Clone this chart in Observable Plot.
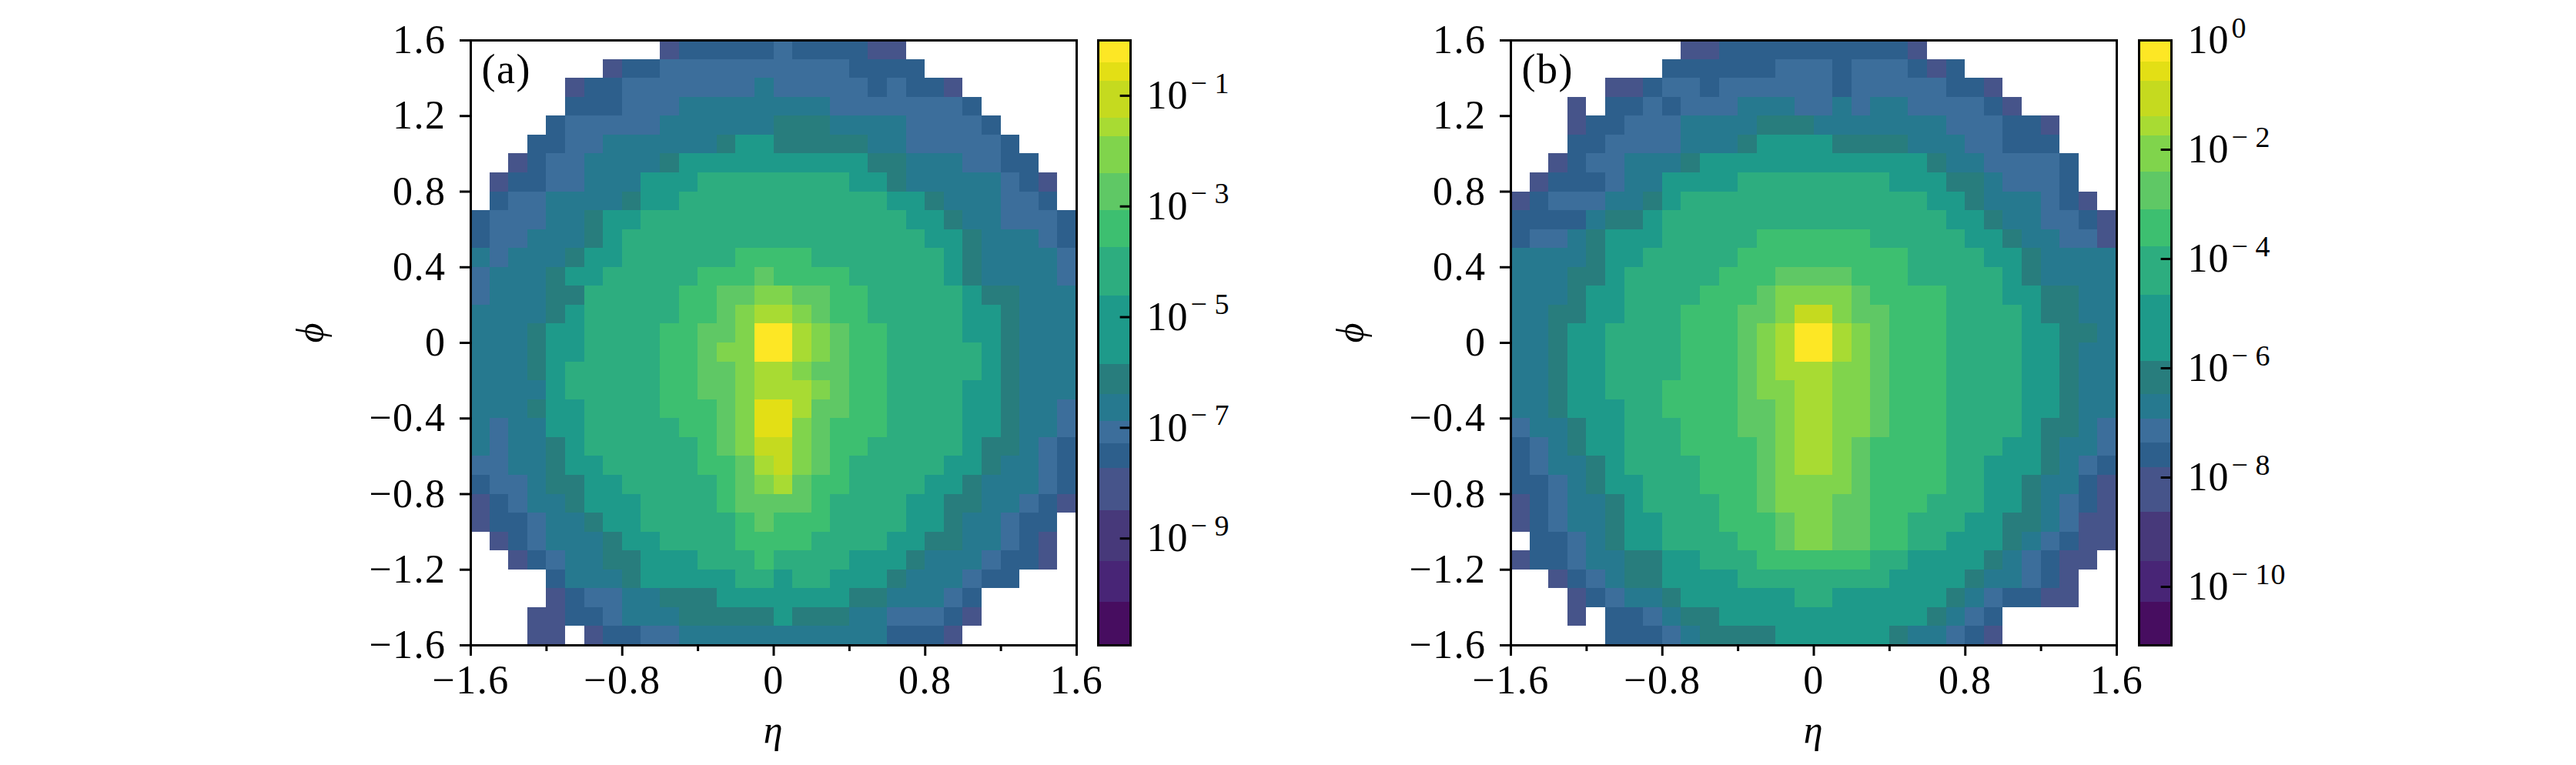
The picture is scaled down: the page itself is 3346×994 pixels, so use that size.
<!DOCTYPE html>
<html>
<head>
<meta charset="utf-8">
<script src="https://cdn.jsdelivr.net/npm/d3@7"></script>
<script src="https://cdn.jsdelivr.net/npm/@observablehq/plot@0.6"></script>
<style>
  html, body { margin: 0; background: #fff; }
  #graph { position: relative; width: 3346px; height: 994px; overflow: hidden; }
  #graph svg { position: absolute; background: transparent; overflow: visible; }
</style>
</head>
<body>
<div id="graph"></div>
<script>
const _ = null; // empty bin, stays white

// colour band of every (eta, phi) bin, top row first
const densityA = [
  [_,_,_,_,_,_,_,_,_,_,1,2,2,2,2,2, 3,2,2,2,2,1,1,_,_,_,_,_,_,_,_,_],
  [_,_,_,_,_,_,_,1,2,2,3,3,3,3,3,3, 3,3,3,3,2,2,2,2,_,_,_,_,_,_,_,_],
  [_,_,_,_,_,1,2,2,3,3,3,3,3,3,3,4, 3,3,3,3,3,2,3,2,2,1,_,_,_,_,_,_],
  [_,_,_,_,_,2,2,2,3,3,3,4,4,4,4,4, 4,4,4,3,3,3,3,3,3,3,2,_,_,_,_,_],
  [_,_,_,_,2,3,3,3,3,3,4,4,4,4,4,4, 5,5,5,4,4,4,4,3,3,3,3,2,_,_,_,_],
  [_,_,_,2,2,3,3,4,4,4,4,4,4,5,6,6, 5,5,5,5,5,4,4,3,3,3,3,3,2,_,_,_],
  [_,_,1,2,3,3,4,4,4,4,5,6,6,6,6,6, 6,6,6,6,6,5,5,4,4,4,3,3,2,2,_,_],
  [_,1,2,2,3,3,4,4,4,6,6,6,7,7,7,7, 7,7,7,7,6,6,5,4,4,4,4,4,3,2,1,_],
  [_,2,3,3,4,4,4,4,5,6,6,7,7,7,7,7, 7,7,7,7,7,7,6,6,5,4,4,4,3,3,2,_],
  [2,3,3,3,4,4,5,6,6,7,7,7,7,7,7,7, 7,7,7,7,7,7,7,6,6,5,4,4,3,3,3,2],
  [2,3,3,4,4,4,5,6,7,7,7,7,7,7,7,7, 7,7,7,7,7,7,7,7,6,6,5,4,4,4,3,2],
  [4,3,4,4,4,5,6,6,7,7,7,7,7,7,8,8, 8,8,7,7,7,7,7,7,7,6,5,4,4,4,4,3],
  [3,4,4,4,5,6,6,7,7,7,7,7,8,8,8,9, 8,8,8,8,7,7,7,7,7,6,5,4,4,4,4,3],
  [3,4,4,4,5,5,7,7,7,7,7,8,8,9,9,10, 10,9,9,8,8,7,7,7,7,7,6,5,5,4,4,4],
  [4,4,4,4,5,6,7,7,7,7,7,8,8,9,10,11, 11,10,9,8,8,7,7,7,7,7,6,6,5,4,4,4],
  [4,4,4,5,6,6,7,7,7,7,8,8,9,9,10,14, 14,11,10,9,8,8,7,7,7,7,6,6,5,4,4,4],
  [4,4,4,5,6,6,7,7,7,7,8,8,9,10,10,14, 14,11,10,9,8,8,7,7,7,7,7,6,5,4,4,4],
  [4,4,4,5,6,7,7,7,7,7,8,8,9,9,10,11, 11,10,9,9,8,8,7,7,7,7,7,6,5,4,4,4],
  [4,4,4,4,6,7,7,7,7,7,8,8,9,9,10,11, 11,11,10,9,8,8,7,7,7,7,6,6,5,4,4,4],
  [4,4,4,5,6,6,7,7,7,7,8,8,8,9,10,13, 13,11,9,9,8,8,7,7,7,7,6,6,5,4,4,3],
  [4,3,4,4,6,6,7,7,7,7,7,8,8,9,10,13, 13,10,9,8,8,8,7,7,7,7,6,6,5,4,4,3],
  [4,3,4,4,5,6,7,7,7,7,7,7,8,9,10,12, 12,10,9,8,8,7,7,7,7,7,6,5,5,4,3,2],
  [3,3,4,4,5,6,6,7,7,7,7,7,8,8,9,11, 12,10,9,8,7,7,7,7,7,6,6,5,4,4,3,2],
  [2,3,3,4,5,5,6,6,7,7,7,7,7,8,9,10, 11,9,8,8,7,7,7,7,6,6,5,4,4,4,3,2],
  [1,2,3,4,4,5,6,6,6,7,7,7,7,8,9,9, 9,9,8,7,7,7,7,6,6,5,5,4,4,3,2,1],
  [1,2,2,3,4,4,5,6,6,7,7,7,7,7,8,9, 8,8,8,7,7,7,7,6,6,5,4,4,3,2,2,_],
  [_,1,2,3,4,4,4,5,6,6,7,7,7,7,8,8, 8,8,7,7,7,7,6,6,5,5,4,4,3,2,1,_],
  [_,_,1,2,3,4,4,5,5,6,6,6,7,7,7,8, 7,7,7,7,6,6,6,5,4,4,4,3,2,2,1,_],
  [_,_,_,_,2,4,4,4,5,6,6,6,6,6,7,7, 6,7,7,6,6,6,5,4,4,4,3,2,2,_,_,_],
  [_,_,_,_,1,2,3,3,4,4,5,5,5,6,6,6, 6,6,6,6,5,5,4,4,4,3,2,_,_,_,_,_],
  [_,_,_,1,1,2,2,3,4,4,4,5,5,5,5,5, 6,5,5,5,4,4,3,3,3,2,1,_,_,_,_,_],
  [_,_,_,1,1,_,1,2,2,3,3,4,4,4,4,4, 4,4,4,4,4,4,2,2,2,1,_,_,_,_,_,_]
];

const densityB = [
  [_,_,_,_,_,_,_,_,_,1,1,2,2,2,2,2, 2,2,2,2,2,1,_,_,_,_,_,_,_,_,_,_],
  [_,_,_,_,_,_,_,_,2,2,2,2,2,2,3,3, 3,2,3,3,3,2,1,2,_,_,_,_,_,_,_,_],
  [_,_,_,_,_,1,1,2,3,3,2,3,3,3,3,3, 3,2,3,3,3,3,3,2,2,1,_,_,_,_,_,_],
  [_,_,_,1,_,2,2,3,2,3,3,3,4,4,4,3, 3,4,3,4,4,3,3,3,3,2,1,_,_,_,_,_],
  [_,_,_,1,2,2,3,3,3,4,4,4,4,5,5,5, 4,4,4,4,4,4,4,3,3,3,2,2,1,_,_,_],
  [_,_,_,2,2,3,3,3,3,4,4,4,5,6,6,6, 6,5,5,5,5,4,4,4,3,3,2,2,2,_,_,_],
  [_,_,1,2,3,3,4,4,4,5,6,6,6,6,6,6, 6,6,6,6,6,6,5,4,4,3,3,3,3,2,_,_],
  [_,1,2,2,2,3,4,4,6,6,6,6,7,7,7,7, 7,7,7,7,6,6,6,5,5,4,3,3,3,2,_,_],
  [1,2,3,3,3,4,4,5,6,7,7,7,7,7,7,7, 7,7,7,7,7,7,6,6,5,4,4,4,3,2,1,_],
  [2,2,2,2,4,5,5,6,7,7,7,7,7,7,7,7, 7,7,7,7,7,7,7,6,6,5,4,4,3,3,2,1],
  [2,3,3,4,5,6,6,6,7,7,7,7,7,8,8,8, 8,8,8,7,7,7,7,7,6,6,5,4,4,3,3,1],
  [4,4,4,4,5,6,6,7,7,7,7,7,8,8,8,8, 8,8,8,8,8,7,7,7,7,6,6,5,4,4,4,4],
  [4,4,4,5,5,6,7,7,7,7,7,8,8,8,9,9, 9,9,8,8,8,7,7,7,7,7,6,5,4,4,4,4],
  [4,4,4,5,6,6,7,7,7,7,8,8,8,9,10,10, 10,10,9,8,8,8,8,7,7,7,6,6,5,5,4,4],
  [4,4,5,5,6,6,7,7,7,8,8,8,9,9,10,12, 12,10,9,9,8,8,8,7,7,7,7,6,5,5,4,4],
  [4,4,5,6,6,7,7,7,7,8,8,8,9,10,11,14, 14,11,10,9,8,8,8,7,7,7,7,6,6,5,5,4],
  [4,4,5,6,6,7,7,7,7,8,8,8,9,10,11,14, 14,11,10,9,8,8,8,7,7,7,7,6,6,5,4,4],
  [4,4,5,6,6,7,7,7,7,8,8,8,9,10,11,11, 11,10,10,9,8,8,8,7,7,7,7,6,6,5,4,4],
  [4,4,5,6,6,7,7,7,8,8,8,8,9,10,10,11, 11,10,10,9,8,8,8,7,7,7,7,6,6,5,4,4],
  [4,4,5,6,6,6,7,7,8,8,8,8,9,9,10,11, 11,10,10,9,8,8,8,7,7,7,7,6,6,5,4,4],
  [3,4,4,5,6,6,7,7,7,8,8,8,9,9,10,11, 11,10,10,9,8,8,8,7,7,7,7,6,5,5,4,3],
  [2,3,4,5,6,6,7,7,7,8,8,8,8,9,10,11, 11,10,9,8,8,8,8,7,7,7,6,6,5,4,4,3],
  [2,3,4,4,5,6,7,7,7,7,8,8,8,9,10,11, 11,10,9,8,8,8,8,7,7,6,6,6,5,4,3,2],
  [2,2,3,4,5,6,6,7,7,7,8,8,8,9,10,10, 10,10,9,8,8,8,8,7,7,6,6,5,4,4,2,1],
  [1,2,3,4,4,5,6,7,7,7,7,8,8,9,10,10, 10,9,9,8,8,8,7,7,7,6,6,5,4,3,2,1],
  [1,2,3,4,4,5,6,6,7,7,7,8,8,8,9,10, 10,9,9,8,8,7,7,7,6,6,5,5,4,3,1,1],
  [_,2,2,3,4,5,6,6,7,7,7,7,8,8,9,10, 10,9,9,8,8,7,7,6,6,6,5,4,3,2,1,1],
  [1,2,2,3,4,4,5,5,6,6,7,7,7,8,8,8, 8,8,8,7,7,6,6,6,6,5,4,3,2,1,1,_],
  [_,_,1,2,3,4,5,5,6,6,6,6,7,7,7,7, 7,7,7,7,6,6,6,6,5,4,4,3,2,1,_,_],
  [_,_,_,1,2,3,4,4,5,6,6,6,6,6,6,7, 7,6,6,6,6,6,6,5,4,3,2,2,1,1,_,_],
  [_,_,_,1,_,2,2,3,4,5,5,6,6,6,6,6, 6,6,6,6,6,6,5,4,3,2,_,_,_,_,_,_],
  [_,_,_,_,_,2,2,2,3,4,5,5,5,5,6,6, 6,6,6,6,5,4,4,3,2,1,_,_,_,_,_,_]
];

const bandLevels = [-2,-1,0,1,2,3,4,5,6,7,8,9,10,11,12,13,14];
const bandColors = ["#470d60","#482576","#47397a","#46548a","#2d5f8c","#3c6e9b","#26798f","#287d7d","#1e9a8a","#2dad7f","#3dbf70","#5fc865","#80d44c","#a8db33","#c5da1f","#e3df15","#fde725"];
// log10 edges of the colour bands on each colourbar
const edgesA = [-10.93,-10.15,-9.42,-8.5,-7.73,-7.29,-6.88,-6.4,-5.85,-4.62,-3.74,-3.07,-2.4,-1.74,-1.4,-0.74,-0.41,0];
const edgesB = [-11.07,-10.28,-9.54,-8.64,-7.82,-7.37,-6.93,-6.48,-5.88,-4.66,-3.77,-3.1,-2.41,-1.74,-1.4,-0.74,-0.4,0];
const decadesA = [-1,-3,-5,-7,-9];
const decadesB = [0,-2,-4,-6,-8,-10];

const phiTicks = [-1.6,-1.2,-0.8,-0.4,0,0.4,0.8,1.2,1.6];
const etaMajor = [-1.6,-0.8,0,0.8,1.6];
const etaMinor = [-1.2,-0.4,0.4,1.2];
const binWidth = 0.1;

const font = "Liberation Serif";
const color = {type: "ordinal", domain: bandLevels, range: bandColors};
const fmt = d => d === 0 ? "0" : (d < 0 ? "\u2212" : "") + Math.abs(d).toFixed(1);

function bins(rows) {
  const out = [];
  rows.forEach((row, j) => row.forEach((level, i) => {
    if (level !== null) out.push({
      eta1: -1.6 + i * binWidth, eta2: -1.6 + (i + 1) * binWidth,
      phi1: 1.6 - (j + 1) * binWidth, phi2: 1.6 - j * binWidth,
      level
    });
  }));
  return out;
}

function heatmap(rows, tag) {
  return Plot.plot({
    width: 1047, height: 956,
    marginLeft: 240, marginRight: 20, marginTop: 20, marginBottom: 150,
    style: {fontFamily: font, fontSize: "50px", color: "#000", letterSpacing: "1.5px"},
    x: {domain: [-1.6, 1.6], label: null},
    y: {domain: [-1.6, 1.6], label: null},
    color,
    marks: [
      Plot.rect(bins(rows), {x1: "eta1", x2: "eta2", y1: "phi1", y2: "phi2", fill: "level", shapeRendering: "crispEdges"}),
      Plot.frame({stroke: "#000", strokeWidth: 3}),
      Plot.axisX({ticks: etaMajor, tickSize: 14, tickPadding: 12, tickFormat: fmt, strokeWidth: 3, fontSize: 52, label: null}),
      Plot.axisX({ticks: etaMinor, tickSize: 8, tickFormat: () => "", strokeWidth: 3, label: null}),
      Plot.axisY({ticks: phiTicks, tickSize: 14, tickPadding: 18, tickFormat: fmt, strokeWidth: 3, fontSize: 52, label: null}),
      Plot.text([tag], {frameAnchor: "top-left", dx: 14, dy: 17, textAnchor: "start", lineAnchor: "top", fontSize: 54}),
      Plot.text(["\u03b7"], {frameAnchor: "bottom", dy: 126, fontStyle: "italic", fontSize: 50}),
      Plot.text(["\u03d5"], {frameAnchor: "left", dx: -208, rotate: -90, fontStyle: "italic", fontSize: 50})
    ]
  });
}

function colorbar(edges, decades) {
  const bands = bandLevels.map((level, i) => ({level, y1: edges[i], y2: edges[i + 1]}));
  return Plot.plot({
    width: 240, height: 826,
    marginLeft: 2, marginRight: 196, marginTop: 20, marginBottom: 20,
    style: {fontFamily: font, color: "#000", letterSpacing: "1px"},
    x: {domain: [0, 1], axis: null},
    y: {domain: [edges[0], 0], axis: null},
    color,
    marks: [
      Plot.rect(bands, {x1: 0, x2: 1, y1: "y1", y2: "y2", fill: "level", shapeRendering: "crispEdges"}),
      Plot.frame({stroke: "#000", strokeWidth: 3}),
      Plot.link(decades, {x1: 0.67, x2: 1, y1: d => d, y2: d => d, stroke: "#000", strokeWidth: 3}),
      Plot.text(decades, {x: 1, y: d => d, text: () => "10", dx: 21, textAnchor: "start", fontSize: 52}),
      Plot.text(decades, {x: 1, y: d => d, text: d => d === 0 ? "0" : "\u2212\u2009" + Math.abs(d), dx: 78, dy: -16, textAnchor: "start", fontSize: 38})
    ]
  });
}

function place(svg, left, top) {
  svg.style.left = left + "px";
  svg.style.top = top + "px";
  d3.select("#graph").append(() => svg);
}

place(heatmap(densityA, "(a)"), 371, 32);
place(colorbar(edgesA, decadesA), 1424, 32);
place(heatmap(densityB, "(b)"), 1722, 32);
place(colorbar(edgesB, decadesB), 2776, 32);
</script>
</body>
</html>
